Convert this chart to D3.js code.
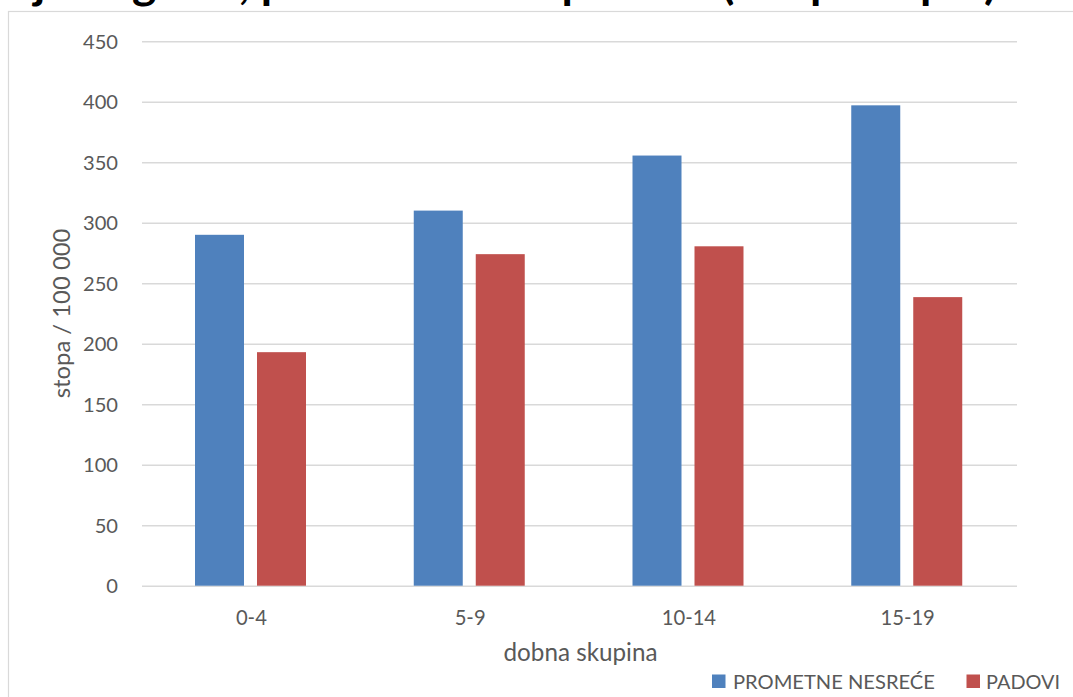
<!DOCTYPE html>
<html>
<head>
<meta charset="utf-8">
<script src="https://cdn.jsdelivr.net/npm/d3@7"></script>
<style>
  html, body { margin: 0; padding: 0; background: #fff; overflow: hidden; }
  svg { display: block; }
</style>
</head>
<body>
<svg id="chart" width="1073" height="697"></svg>
<script>
// ---- data ----
const categories = ["0-4", "5-9", "10-14", "15-19"];
const seriesNames = ["PROMETNE NESREĆE", "PADOVI"];
const prometneNesrece = [290, 310, 355.5, 397];
const padovi = [193, 274, 280.5, 238.5];
const yTicks = [0, 50, 100, 150, 200, 250, 300, 350, 400, 450];
const titleText = "Ozljede glave, po dobnim skupinama (ukupno spol)";
const yTitle = "stopa / 100 000";
const xTitle = "dobna skupina";

const colors = ["#4F81BD", "#C0504D"];
const textColor = "#595959";
const gridColor = "#D9D9D9";
const font = "Lato, 'Open Sans', sans-serif";

const svg = d3.select("#chart");

function fitWidth(sel, target) {
  const w = sel.node().getComputedTextLength();
  const fs = parseFloat(sel.attr("font-size"));
  const nfs = fs * target / w;
  sel.attr("font-size", nfs);
  return nfs;
}

// chart area border (continues beyond the visible crop)
svg.append("rect")
  .attr("x", 8.5).attr("y", 11.5)
  .attr("width", 1200).attr("height", 800)
  .attr("fill", "none").attr("stroke", gridColor).attr("stroke-width", 1.2);

// title (mostly cut off above the crop: only descenders show)
const titleG = svg.append("g");
const title = titleG.append("text")
  .attr("x", 0).attr("y", 0)
  .attr("font-family", font).attr("font-weight", "bold")
  .attr("font-size", 44).attr("fill", "#000")
  .text(titleText);
{
  const node = title.node();
  const iOpen = titleText.indexOf("(");
  const iClose = titleText.length - 1;
  const a = node.getStartPositionOfChar(iOpen).x;
  const b = node.getEndPositionOfChar(iClose).x;
  const s = (997 - 722) / (b - a);
  titleG.attr("transform", `translate(${722 - a * s},-1) scale(${s},1)`);
}

// plot area
const plot = { left: 142, right: 1017, top: 41.2, bottom: 585.7 };

const x = d3.scaleBand().domain(categories).range([plot.left, plot.right]).padding(0);
const y = d3.scaleLinear().domain([0, 450]).range([plot.bottom, plot.top]);
const bw = x.bandwidth();
const xs = d3.scaleBand().domain(seriesNames)
  .range([bw * 0.2423, bw * 0.7497]).paddingInner(0.2097).paddingOuter(0);

// y axis with gridlines
const gy = svg.append("g")
  .attr("transform", `translate(${plot.left},0)`)
  .call(d3.axisLeft(y).tickValues(yTicks).tickSize(-(plot.right - plot.left)).tickPadding(24));
gy.select(".domain").remove();
gy.selectAll(".tick line").attr("stroke", gridColor).attr("stroke-width", 1.4);
gy.selectAll(".tick text")
  .attr("font-family", font).attr("fill", textColor).attr("font-size", 22)
  .attr("dy", "0.35em");
{
  const t450 = gy.selectAll(".tick text").filter(d => d === 450);
  const fs = fitWidth(t450, 35);
  gy.selectAll(".tick text").attr("font-size", fs);
}

// bars
const data = categories.map((c, i) => ({
  cat: c,
  vals: [
    { s: seriesNames[0], v: prometneNesrece[i], c: colors[0] },
    { s: seriesNames[1], v: padovi[i], c: colors[1] }
  ]
}));
const groups = svg.append("g").selectAll("g").data(data).join("g")
  .attr("transform", d => `translate(${x(d.cat)},0)`);
groups.selectAll("rect").data(d => d.vals).join("rect")
  .attr("x", d => xs(d.s))
  .attr("width", xs.bandwidth())
  .attr("y", d => y(d.v))
  .attr("height", d => y(0) - y(d.v))
  .attr("fill", d => d.c);

// x axis labels
const gx = svg.append("g")
  .attr("transform", `translate(0,${plot.bottom})`)
  .call(d3.axisBottom(x).tickSize(0).tickPadding(0));
gx.select(".domain").remove();
gx.selectAll(".tick text")
  .attr("font-family", font).attr("fill", textColor).attr("font-size", 22)
  .attr("dy", 0).attr("y", 625 - plot.bottom);
{
  const t = gx.selectAll(".tick text").filter(d => d === "0-4");
  const fs = fitWidth(t, 31);
  gx.selectAll(".tick text").attr("font-size", fs);
}

// axis titles
const yt = svg.append("text")
  .attr("transform", `translate(70,${(plot.top + plot.bottom) / 2}) rotate(-90)`)
  .attr("text-anchor", "middle")
  .attr("font-family", font).attr("fill", textColor).attr("font-size", 24)
  .text(yTitle);
fitWidth(yt, 170);

const xt = svg.append("text")
  .attr("x", (plot.left + plot.right) / 2 + 1).attr("y", 661)
  .attr("text-anchor", "middle")
  .attr("font-family", font).attr("fill", textColor).attr("font-size", 24)
  .text(xTitle);
fitWidth(xt, 154);

// legend
const legendItems = [
  { name: seriesNames[0], color: colors[0], sx: 712, tx: 733, w: 202 },
  { name: seriesNames[1], color: colors[1], sx: 966.5, tx: 986, w: 74 }
];
const lg = svg.append("g");
legendItems.forEach(it => {
  lg.append("rect")
    .attr("x", it.sx).attr("y", 674.5)
    .attr("width", 13.5).attr("height", 13.5)
    .attr("fill", it.color);
  const t = lg.append("text")
    .attr("x", it.tx).attr("y", 689)
    .attr("font-family", font).attr("fill", textColor).attr("font-size", 22)
    .text(it.name);
  fitWidth(t, it.w);
});
</script>
</body>
</html>
